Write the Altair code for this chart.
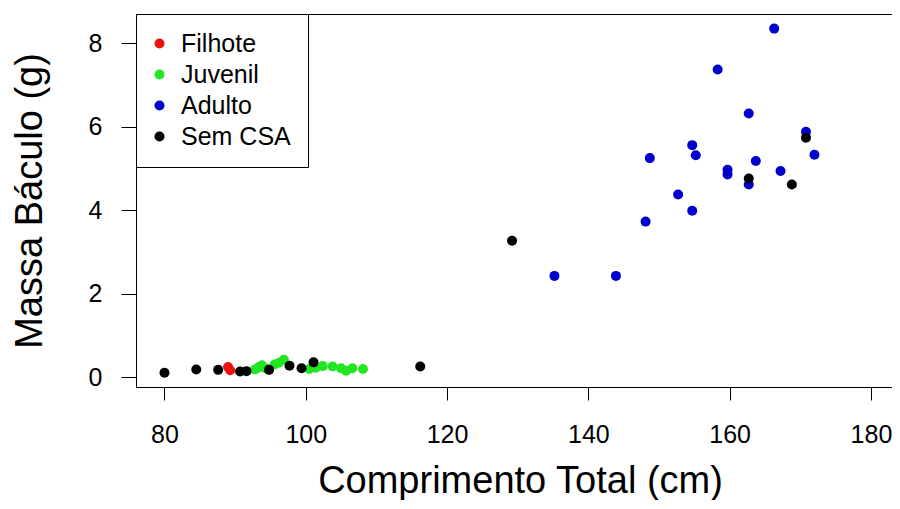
import altair as alt
import pandas as pd

# ---- data ----
groups = ["Filhote", "Juvenil", "Adulto", "Sem CSA"]
colors = ["#F01010", "#22E622", "#0000CD", "#000000"]

filhote_x = [89.0, 89.3]
filhote_y = [0.25, 0.17]

juvenil_x = [92.8, 93.3, 93.8, 94.3, 95.6, 96.2, 96.9, 100.5, 101.4, 102.4, 103.8, 105.0, 105.7, 106.6, 108.1]
juvenil_y = [0.19, 0.24, 0.29, 0.22, 0.31, 0.35, 0.42, 0.20, 0.23, 0.27, 0.26, 0.22, 0.16, 0.22, 0.20]

adulto_x = [135.2, 143.9, 148.1, 148.7, 152.7, 154.7, 154.7, 155.2, 158.3, 159.7, 159.7,
            162.7, 162.7, 163.7, 166.3, 167.2, 170.8, 172.0]
adulto_y = [2.43, 2.43, 3.73, 5.25, 4.38, 3.99, 5.56, 5.32, 7.37, 4.97, 4.86,
            6.32, 4.62, 5.18, 8.35, 4.94, 5.88, 5.33]

semcsa_x = [80.0, 84.5, 87.6, 90.7, 91.6, 94.8, 97.7, 99.4, 101.1, 116.2, 129.2, 162.7, 168.8, 170.8]
semcsa_y = [0.11, 0.19, 0.18, 0.14, 0.15, 0.18, 0.28, 0.22, 0.36, 0.26, 3.27, 4.76, 4.62, 5.74]

x_ticks = [80, 100, 120, 140, 160, 180]
y_ticks = [0, 2, 4, 6, 8]

rows = []
for g, xs, ys in [("Filhote", filhote_x, filhote_y), ("Juvenil", juvenil_x, juvenil_y),
                  ("Adulto", adulto_x, adulto_y), ("Sem CSA", semcsa_x, semcsa_y)]:
    for a, b in zip(xs, ys):
        rows.append({"comp": a, "massa": b, "grupo": g})
df = pd.DataFrame(rows)
df["ordem"] = range(len(df))

FONT = "Liberation Sans"
W, H = 756, 373
PX_PER_UNIT = 7.065
X_MIN = 75.97

xscale = alt.Scale(domain=[X_MIN, X_MIN + W / PX_PER_UNIT], nice=False, zero=False)
yscale = alt.Scale(domain=[-0.23, 8.70], nice=False, zero=False)

points = alt.Chart(df).mark_circle(size=100, opacity=1).encode(
    x=alt.X("comp:Q", scale=xscale,
            axis=alt.Axis(values=x_ticks, title="Comprimento Total (cm)", grid=False,
                          tickSize=13, labelPadding=22, labelFontSize=25, labelFont=FONT,
                          labelColor="black", tickColor="black", domainColor="black",
                          titleFont=FONT, titleFontSize=38, titleFontWeight="normal",
                          titleColor="black", titleX=384, titleY=105, titleAlign="center",
                          titleBaseline="alphabetic")),
    y=alt.Y("massa:Q", scale=yscale,
            axis=alt.Axis(values=y_ticks, title="Massa Báculo (g)", grid=False,
                          tickSize=15, labelPadding=19, labelFontSize=25, labelFont=FONT,
                          labelColor="black", tickColor="black", domainColor="black",
                          titleFont=FONT, titleFontSize=38, titleFontWeight="normal",
                          titleColor="black", titleX=-106, titleY=H / 2, titleAngle=270,
                          titleAlign="center", titleBaseline="middle")),
    color=alt.Color("grupo:N", scale=alt.Scale(domain=groups, range=colors),
                    legend=alt.Legend(title=None, orient="top-left", offset=0, padding=17,
                                      strokeColor="black", fillColor="white",
                                      labelFontSize=25, labelFont=FONT, labelColor="black",
                                      symbolType="circle", symbolSize=100, symbolOffset=-6,
                                      symbolStrokeWidth=0, rowPadding=5, labelOffset=9)),
    order=alt.Order("ordem:Q"),
)

top_border = alt.Chart(df).mark_point(opacity=0).encode(
    x=alt.X("comp:Q", scale=xscale,
            axis=alt.Axis(orient="top", labels=False, ticks=False, title=None, grid=False,
                          domainColor="black")),
)

chart = alt.layer(points, top_border).resolve_axis(x="independent").properties(
    width=W, height=H,
    padding={"left": 128, "top": 6, "right": 0, "bottom": 113},
    autosize=alt.AutoSizeParams(type="none"),
    background="white",
).configure_view(stroke=None)

chart.save("out.html", embed_options={"renderer": "svg", "actions": False})
